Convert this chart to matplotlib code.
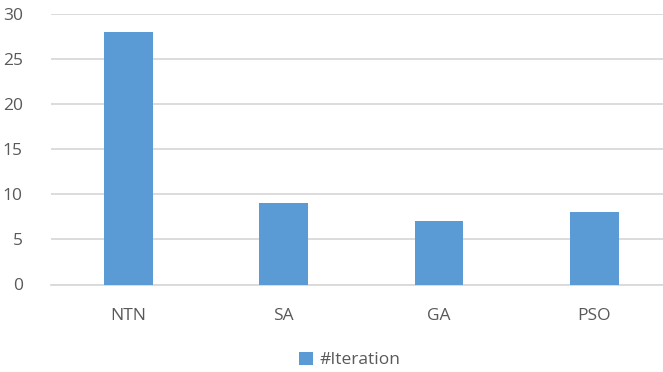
import matplotlib
matplotlib.use("Agg")
import matplotlib.pyplot as plt

categories = ["NTN", "SA", "GA", "PSO"]
iterations = [28, 9, 7, 8]
series_name = "#Iteration"
yticks = [0, 5, 10, 15, 20, 25, 30]

plt.rcParams['font.family'] = ['Open Sans', 'DejaVu Sans']
text_color = "#595959"
bar_color = "#5B9BD5"
grid_color = "#D9D9D9"

fig = plt.figure(figsize=(6.63, 3.72), dpi=100)
W, H = 663, 372
left, right = 50.6, 672.0
top, bottom = 14.3, 284.5
ax = fig.add_axes([left / W, (H - bottom) / H, (right - left) / W, (bottom - top) / H])

x = range(len(categories))
bars = ax.bar(x, iterations, width=0.313, color=bar_color, label=series_name, zorder=3)

ax.set_xlim(-0.5, len(categories) - 0.5)
ax.set_ylim(0, 30)
ax.set_yticks(yticks)
ax.set_xticks(list(x))
ax.set_xticklabels(categories)
ax.yaxis.grid(True, color=grid_color, linewidth=1.3, zorder=0)
ax.set_axisbelow(True)
for s in ["top", "right", "left"]:
    ax.spines[s].set_visible(False)
ax.spines["bottom"].set_color(grid_color)
ax.spines["bottom"].set_linewidth(1.3)
ax.tick_params(axis="both", length=0, labelsize=12.5, colors=text_color)
ax.tick_params(axis="y", pad=20)
ax.tick_params(axis="x", pad=17)

leg = fig.legend(handles=[bars], labels=[series_name], loc="center",
                 bbox_to_anchor=(350 / W, (H - 360) / H), frameon=False,
                 fontsize=12.5, handlelength=0.8, handleheight=0.8,
                 handletextpad=0.4, labelcolor=text_color)

fig.savefig("out.png", dpi=100)
